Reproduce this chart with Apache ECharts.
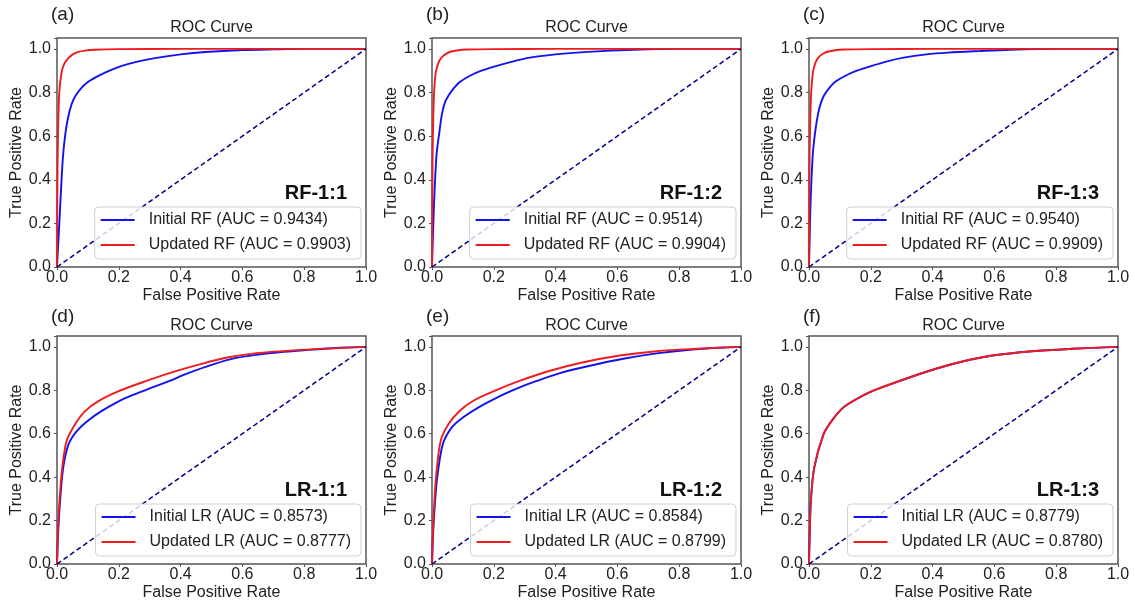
<!DOCTYPE html>
<html><head><meta charset="utf-8">
<script src="https://cdn.jsdelivr.net/npm/echarts@6/dist/echarts.min.js"></script>
<style>html,body{margin:0;padding:0;background:#fff}#c{width:1135px;height:603px}</style>
</head><body><div id="c"></div>
<script>
// ---------- data ----------
const tickLabels = ['0.0', '0.2', '0.4', '0.6', '0.8', '1.0'];
const panelLetters = ['(a)', '(b)', '(c)', '(d)', '(e)', '(f)'];
const panelTags = ['RF-1:1', 'RF-1:2', 'RF-1:3', 'LR-1:1', 'LR-1:2', 'LR-1:3'];
const models = ['RF', 'RF', 'RF', 'LR', 'LR', 'LR'];
const aucInitial = ['0.9434', '0.9514', '0.9540', '0.8573', '0.8584', '0.8779'];
const aucUpdated = ['0.9903', '0.9904', '0.9909', '0.8777', '0.8799', '0.8780'];
const diagX = [0, 1];
const diagY = [0, 1];

// (a) RF-1:1
const aInitFpr = [0, 0.003, 0.006, 0.01, 0.014, 0.019, 0.026, 0.035, 0.047, 0.06, 0.08, 0.1, 0.134, 0.17, 0.21, 0.26, 0.317, 0.4, 0.48, 0.6, 0.7, 0.8, 1.0];
const aInitTpr = [0, 0.08, 0.16, 0.27, 0.38, 0.5, 0.60, 0.68, 0.745, 0.785, 0.822, 0.848, 0.876, 0.90, 0.922, 0.942, 0.958, 0.975, 0.986, 0.995, 0.998, 1.0, 1.0];
const aUpdFpr = [0, 0.001, 0.002, 0.004, 0.006, 0.009, 0.013, 0.017, 0.025, 0.037, 0.05, 0.069, 0.09, 0.12, 0.2, 0.4, 1.0];
const aUpdTpr = [0, 0.3, 0.5, 0.65, 0.76, 0.83, 0.875, 0.907, 0.935, 0.958, 0.974, 0.986, 0.992, 0.996, 0.999, 1.0, 1.0];
// (b) RF-1:2
const bInitFpr = [0, 0.002, 0.005, 0.009, 0.015, 0.024, 0.032, 0.042, 0.055, 0.069, 0.09, 0.123, 0.16, 0.204, 0.26, 0.317, 0.4, 0.457, 0.55, 0.65, 0.8, 1.0];
const bInitTpr = [0, 0.1, 0.23, 0.37, 0.52, 0.62, 0.7, 0.755, 0.79, 0.817, 0.848, 0.877, 0.90, 0.92, 0.942, 0.96, 0.975, 0.982, 0.99, 0.996, 1.0, 1.0];
const bUpdFpr = [0, 0.001, 0.002, 0.004, 0.006, 0.009, 0.012, 0.015, 0.022, 0.032, 0.045, 0.062, 0.085, 0.11, 0.2, 0.4, 1.0];
const bUpdTpr = [0, 0.3, 0.52, 0.67, 0.78, 0.85, 0.89, 0.91, 0.94, 0.962, 0.977, 0.988, 0.994, 0.997, 0.999, 1.0, 1.0];
// (c) RF-1:3
const cInitFpr = [0, 0.002, 0.004, 0.008, 0.013, 0.021, 0.029, 0.039, 0.05, 0.064, 0.085, 0.118, 0.155, 0.198, 0.25, 0.306, 0.38, 0.45, 0.55, 0.65, 0.8, 1.0];
const cInitTpr = [0, 0.12, 0.25, 0.4, 0.53, 0.63, 0.7, 0.755, 0.79, 0.818, 0.849, 0.877, 0.90, 0.92, 0.942, 0.96, 0.975, 0.983, 0.99, 0.996, 1.0, 1.0];
const cUpdFpr = [0, 0.001, 0.002, 0.004, 0.006, 0.009, 0.012, 0.016, 0.022, 0.032, 0.045, 0.062, 0.085, 0.11, 0.2, 0.4, 1.0];
const cUpdTpr = [0, 0.32, 0.52, 0.66, 0.77, 0.84, 0.885, 0.915, 0.94, 0.963, 0.978, 0.988, 0.994, 0.997, 0.999, 1.0, 1.0];
// (d) LR-1:1
const dInitFpr = [0, 0.004, 0.01, 0.02, 0.037, 0.064, 0.1, 0.145, 0.198, 0.24, 0.285, 0.36, 0.425, 0.5, 0.576, 0.684, 0.813, 0.93, 1.0];
const dInitTpr = [0, 0.15, 0.29, 0.443, 0.55, 0.612, 0.66, 0.705, 0.748, 0.775, 0.8, 0.841, 0.879, 0.917, 0.948, 0.97, 0.986, 0.997, 1.0];
const dUpdFpr = [0, 0.003, 0.008, 0.017, 0.031, 0.058, 0.09, 0.134, 0.198, 0.285, 0.382, 0.468, 0.555, 0.64, 0.79, 0.91, 1.0];
const dUpdTpr = [0, 0.15, 0.29, 0.443, 0.566, 0.642, 0.703, 0.75, 0.795, 0.841, 0.887, 0.922, 0.952, 0.97, 0.986, 0.994, 1.0];
// (e) LR-1:2
const eInitFpr = [0, 0.004, 0.009, 0.017, 0.035, 0.064, 0.1, 0.155, 0.23, 0.274, 0.339, 0.414, 0.511, 0.619, 0.727, 0.835, 0.943, 1.0];
const eInitTpr = [0, 0.15, 0.27, 0.4, 0.552, 0.629, 0.675, 0.725, 0.78, 0.808, 0.843, 0.879, 0.913, 0.945, 0.97, 0.987, 0.997, 1.0];
const eUpdFpr = [0, 0.003, 0.007, 0.013, 0.028, 0.053, 0.09, 0.134, 0.204, 0.285, 0.382, 0.49, 0.608, 0.727, 0.857, 1.0];
const eUpdTpr = [0, 0.15, 0.27, 0.4, 0.567, 0.644, 0.706, 0.752, 0.798, 0.844, 0.89, 0.929, 0.96, 0.98, 0.991, 1.0];
// (f) LR-1:3
const fInitFpr = [0, 0.002, 0.006, 0.017, 0.047, 0.074, 0.11, 0.154, 0.208, 0.294, 0.39, 0.487, 0.594, 0.722, 0.851, 1.0];
const fInitTpr = [0, 0.12, 0.29, 0.444, 0.597, 0.66, 0.719, 0.76, 0.798, 0.843, 0.89, 0.929, 0.96, 0.98, 0.991, 1.0];
const fUpdFpr = [0, 0.002, 0.006, 0.017, 0.047, 0.074, 0.11, 0.154, 0.208, 0.294, 0.39, 0.487, 0.594, 0.722, 0.851, 1.0];
const fUpdTpr = [0, 0.12, 0.29, 0.445, 0.598, 0.66, 0.72, 0.76, 0.798, 0.844, 0.89, 0.929, 0.96, 0.98, 0.991, 1.0];

const initCurves = [[aInitFpr, aInitTpr], [bInitFpr, bInitTpr], [cInitFpr, cInitTpr], [dInitFpr, dInitTpr], [eInitFpr, eInitTpr], [fInitFpr, fInitTpr]];
const updCurves = [[aUpdFpr, aUpdTpr], [bUpdFpr, bUpdTpr], [cUpdFpr, cUpdTpr], [dUpdFpr, dUpdTpr], [eUpdFpr, eUpdTpr], [fUpdFpr, fUpdTpr]];

// ---------- layout ----------
const FONT = "'Liberation Sans', Arial, Helvetica, sans-serif";
const W = 1135, H = 603;
const GRID_POS = [[57, 38, 229], [432, 38, 229], [809, 38, 229], [57, 336, 228], [432, 336, 228], [809, 336, 228]];
const GW = 309;
const BLUE = '#1212ee', RED = '#ee1c1c', NAVY = '#000080', TXT = '#222222', FRAME = '#555555';

const zip = (xs, ys) => xs.map((x, i) => [x, ys[i]]);
const fmt = v => {
  const i = Math.round(v / 0.2);
  return (Math.abs(v - i * 0.2) < 1e-6 && i >= 0 && i < tickLabels.length) ? tickLabels[i] : '';
};

const grid = [], xAxis = [], yAxis = [], series = [], legend = [], title = [];
GRID_POS.forEach((g, i) => {
  const [gl, gt, gh] = g;
  const top = i < 3;
  grid.push({ left: gl, top: gt, width: GW, height: gh, show: true, borderColor: FRAME, borderWidth: 1.5, backgroundColor: '#fff' });
  const axisCommon = {
    gridIndex: i, type: 'value', min: 0, interval: 0.2,
    axisLine: { show: false },
    axisTick: { show: true, length: 3, lineStyle: { color: FRAME, width: 1 } },
    splitLine: { show: false },
    nameLocation: 'middle',
    nameTextStyle: { fontSize: 16, color: TXT, fontFamily: FONT },
    axisLabel: { fontSize: 16, color: TXT, fontFamily: FONT, formatter: fmt }
  };
  xAxis.push(Object.assign({}, axisCommon, { max: 1, name: 'False Positive Rate', nameGap: 21,
    axisLabel: Object.assign({}, axisCommon.axisLabel, { margin: 3 }) }));
  yAxis.push(Object.assign({}, axisCommon, { max: 1.05, name: 'True Positive Rate', nameGap: 27,
    axisLabel: Object.assign({}, axisCommon.axisLabel, { margin: 6 }) }));

  const nInit = `Initial ${models[i]} (AUC = ${aucInitial[i]})`;
  const nUpd = `Updated ${models[i]} (AUC = ${aucUpdated[i]})`;
  series.push({ type: 'line', name: nInit, xAxisIndex: i, yAxisIndex: i, data: zip(initCurves[i][0], initCurves[i][1]),
    symbol: 'none', smooth: 0.3, lineStyle: { color: BLUE, width: 1.9 }, itemStyle: { color: BLUE }, z: 2 });
  series.push({ type: 'line', name: nUpd, xAxisIndex: i, yAxisIndex: i, data: zip(updCurves[i][0], updCurves[i][1]),
    symbol: 'none', smooth: 0.3, lineStyle: { color: RED, width: 1.9 }, itemStyle: { color: RED }, z: 3 });
  series.push({ type: 'line', name: 'diag' + i, xAxisIndex: i, yAxisIndex: i, data: zip(diagX, diagY), silent: true,
    symbol: 'none', lineStyle: { color: NAVY, width: 1.5, type: [5, 3] }, z: 4 });

  legend.push({
    data: [nInit, nUpd], orient: 'vertical', selectedMode: false,
    right: W - (gl + GW - 5), bottom: H - (gt + gh - 8),
    icon: 'rect', itemWidth: 34, itemHeight: 2, itemGap: 7,
    padding: [4, 10, 5, 6],
    backgroundColor: 'rgba(255,255,255,0.8)', borderColor: '#d0d0d0', borderWidth: 1, borderRadius: 4,
    textStyle: { fontSize: 16, color: TXT, fontFamily: FONT, lineHeight: 18, padding: [0, 0, 0, 9] },
    z: 10
  });

  title.push({ text: 'ROC Curve', left: gl + GW / 2, textAlign: 'center', top: gt - 18, padding: 0,
    textStyle: { fontSize: 16, fontWeight: 'normal', color: TXT, fontFamily: FONT } });
  title.push({ text: panelLetters[i], left: gl - 6, top: top ? 5 : 307, padding: 0,
    textStyle: { fontSize: 19, fontWeight: 'normal', color: TXT, fontFamily: FONT } });
  title.push({ text: panelTags[i], right: W - (gl + GW - 19), top: top ? 183 : 480, padding: 0,
    textStyle: { fontSize: 20, fontWeight: 'bold', color: '#111', fontFamily: FONT }, z: 8 });
});

const chart = echarts.init(document.getElementById('c'), null, { renderer: 'canvas' });
chart.setOption({ backgroundColor: '#fff', animation: false, grid, xAxis, yAxis, series, legend, title });
</script></body></html>
